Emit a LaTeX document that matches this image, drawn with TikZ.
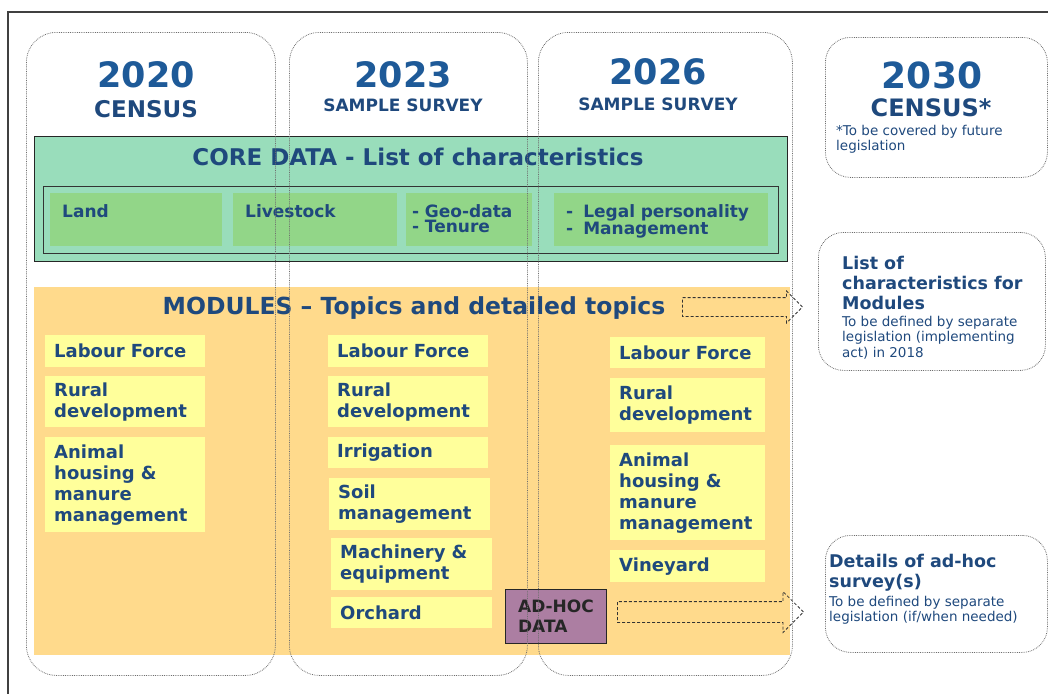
\documentclass[tikz,border=0pt]{standalone}
\usepackage{fontspec}
\setmainfont{DejaVu Sans}
\usetikzlibrary{shapes.arrows}

\definecolor{yearblue}{RGB}{30,90,152}
\definecolor{textblue}{RGB}{31,73,125}
\definecolor{coregreen}{RGB}{153,221,187}
\definecolor{cellgreen}{RGB}{146,214,136}
\definecolor{modorange}{RGB}{255,218,140}
\definecolor{cellyellow}{RGB}{255,255,155}
\definecolor{adhocpurple}{RGB}{172,126,162}
\definecolor{dotgray}{RGB}{110,110,110}

\tikzset{
  roundbox/.style={draw=dotgray,densely dotted,line width=0.8pt,rounded corners=#1,anchor=north west,inner sep=0pt},
  year/.style={text=yearblue,font=\fontsize{35}{40}\selectfont\bfseries},
  kind/.style={text=textblue,font=\fontsize{#1}{#1}\selectfont\bfseries},
  corecell/.style={fill=cellgreen,anchor=north west,align=left,inner ysep=0pt,text height=24pt,text depth=29pt,text=textblue,font=\fontsize{17}{15.5}\selectfont\bfseries},
  topic/.style={fill=cellyellow,anchor=north west,align=left,inner ysep=0pt,inner xsep=9pt,text=textblue,font=\fontsize{18}{21}\selectfont\bfseries},
  note/.style={anchor=north west,align=left,inner sep=0pt,text=textblue,font=\fontsize{13.5}{15.5}\selectfont},
  notehead/.style={anchor=north west,align=left,inner sep=0pt,text=textblue,font=\fontsize{17.5}{20}\selectfont\bfseries},
  linkarrow/.style={single arrow,draw=black!80,densely dashed,line width=0.8pt,inner xsep=0pt,anchor=tip}
}

\begin{document}
\begin{tikzpicture}[x=1pt,y=-1pt]
    \useasboundingbox (0,0) rectangle (1048,694);

    \draw[black!75,line width=1.2pt]
      (1048,12) -- (8,12) -- (8,694);

    % headers
    \node[year] (y2020) at (146,75) {2020};
    \node[kind=23] (k2020) at (146,109) {CENSUS};
    \node[year] (y2023) at (403,75) {2023};
    \node[kind=17] (k2023) at (403,105) {SAMPLE SURVEY};
    \node[year] (y2026) at (658,72) {2026};
    \node[kind=17] (k2026) at (658,104) {SAMPLE SURVEY};

    % core data
    \node[draw=black!85,fill=coregreen,anchor=north west,minimum width=753pt,minimum height=125pt,inner sep=0pt] (core) at (34,136) {};
    \node[kind=23] (coretitle) at (418,157) {CORE DATA - List of characteristics};
    \node[draw=black!80,line width=1pt,anchor=north west,minimum width=735pt,minimum height=67pt,inner sep=0pt] (coreframe) at (43,186) {};

    \node[corecell,text width=148pt,inner xsep=12pt] (land) at (50,193) {Land};
    \node[corecell,text width=140pt,inner xsep=12pt] (live) at (233,193) {Livestock};
    \node[corecell,text width=114pt,inner xsep=6pt] (geo) at (406,193) {- Geo-data\\- Tenure};
    \node[corecell,text width=190pt,inner xsep=12pt] (legal) at (554,193) {-\hspace{10pt}Legal personality\\-\hspace{10pt}Management};

    % modules
    \node[fill=modorange,anchor=north west,minimum width=756pt,minimum height=368pt,inner sep=0pt] (modules) at (34,287) {};
    \node[kind=23.5] (modtitle) at (414,308) {MODULES \textendash{} Topics and detailed topics};

    \node[topic,text width=142pt,minimum height=32pt] (lab20) at (45,335) {Labour Force};
    \node[topic,text width=142pt,minimum height=51pt] (rur20) at (45,376) {Rural\\development};
    \node[topic,text width=142pt,minimum height=95pt] (ani20) at (45,437) {Animal\\housing \&\\manure\\management};

    \node[topic,text width=142pt,minimum height=32pt] (lab23) at (328,335) {Labour Force};
    \node[topic,text width=142pt,minimum height=51pt] (rur23) at (328,376) {Rural\\development};
    \node[topic,text width=142pt,minimum height=31pt] (irr23) at (328,437) {Irrigation};
    \node[topic,text width=143pt,minimum height=52pt] (soil23) at (329,478) {Soil\\management};
    \node[topic,text width=143pt,minimum height=52pt] (mach23) at (331,538) {Machinery \&\\equipment};
    \node[topic,text width=143pt,minimum height=31pt] (orch23) at (331,597) {Orchard};

    \node[topic,text width=137pt,minimum height=31pt] (lab26) at (610,337) {Labour Force};
    \node[topic,text width=137pt,minimum height=54pt] (rur26) at (610,378) {Rural\\development};
    \node[topic,text width=137pt,minimum height=95pt] (ani26) at (610,445) {Animal\\housing \&\\manure\\management};
    \node[topic,text width=137pt,minimum height=32pt] (vin26) at (610,550) {Vineyard};

    \node[draw=black!85,line width=1pt,fill=adhocpurple,anchor=north west,minimum width=101pt,minimum height=54pt,align=left,text=black!85,font=\fontsize{17}{20}\selectfont\bfseries,inner xsep=10pt] (adhoc) at (505,589) {AD-HOC\\DATA};

    % arrows
    \node[linkarrow,minimum height=120pt,inner ysep=9pt,single arrow head extend=6.5pt] (modarrow) at (803,307) {};
    \node[linkarrow,minimum height=186pt,inner ysep=10pt,single arrow head extend=10pt] (adarrow) at (804,612) {};

    % right hand boxes
    \node[roundbox=25pt,minimum width=222pt,minimum height=140pt] (box2030) at (825,37) {};
    \node[year,font=\fontsize{36}{40}\selectfont\bfseries] (y2030) at (932,75) {2030};
    \node[kind=24] (k2030) at (931,108) {CENSUS*};
    \node[note] (n2030) at (836,125) {*To be covered by future\\legislation};

    \node[roundbox=25pt,minimum width=227pt,minimum height=138pt] (boxmod) at (818,232) {};
    \node[notehead] (hmod) at (842,256) {List of\\characteristics for\\Modules};
    \node[note] (dmod) at (842,316) {To be defined by separate\\legislation (implementing\\act) in 2018};

    \node[roundbox=25pt,minimum width=222pt,minimum height=117pt] (boxadhoc) at (825,535) {};
    \node[notehead] (hadhoc) at (829,554) {Details of ad-hoc\\survey(s)};
    \node[note] (dadhoc) at (829,596) {To be defined by separate\\legislation (if/when needed)};

    % columns on top
    \node[roundbox=30pt,minimum width=249pt,minimum height=643pt] (c2020) at (26,32) {};
    \node[roundbox=30pt,minimum width=238pt,minimum height=643pt] (c2023) at (289,32) {};
    \node[roundbox=30pt,minimum width=254pt,minimum height=643pt] (c2026) at (538,32) {};
\end{tikzpicture}
\end{document}
